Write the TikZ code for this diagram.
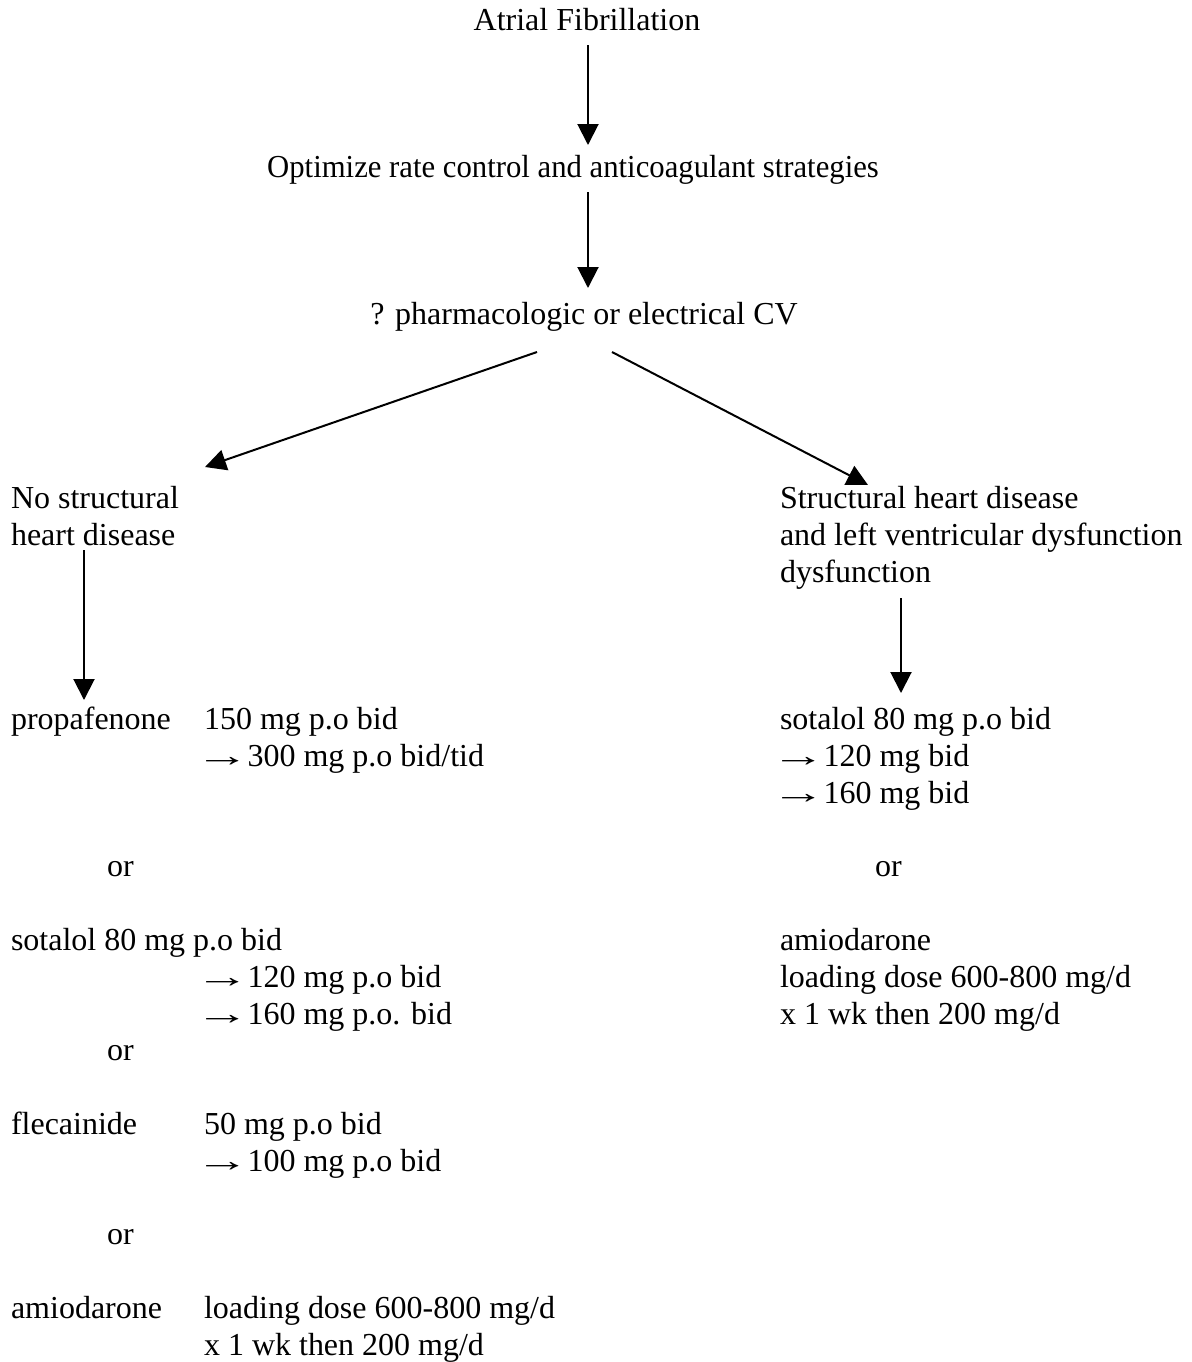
\documentclass[tikz,border=0pt]{standalone}
\usepackage{fontspec}
\setmainfont{Liberation Serif}
\usetikzlibrary{arrows.meta}
\newcommand{\ra}{\hspace*{-4.4pt}\scalebox{1.7}[1]{→}\hspace{-5pt}}
\begin{document}
\begin{tikzpicture}[x=0.5pt,y=-0.5pt,
  txt/.style={inner sep=0pt,outer sep=0pt,anchor=base west,text height=11pt,text depth=3pt,font=\fontsize{16pt}{18.4pt}\selectfont},
  ctxt/.style={txt,anchor=base},
  arr/.style={line width=1pt,-{Triangle[length=10.5pt,width=10.5pt]}}]
\useasboundingbox (0,0) rectangle (1192,1362);
% top chain
\node[ctxt] (af) at (587,30) {Atrial Fibrillation};
\node[ctxt] (opt) at (573,177) {\scalebox{0.96}[1]{Optimize rate control and anticoagulant strategies}};
\node[ctxt] (cv) at (584,324) {? pharmacologic or electrical CV};
% branches
\node[txt] (ns1) at (11,508) {No structural};
\node[txt] (ns2) at (11,545) {heart disease};
\node[txt] (sh1) at (780,508) {Structural heart disease};
\node[txt] (sh2) at (780,545) {and left ventricular dysfunction};
\node[txt] (sh3) at (780,582) {dysfunction};
% left column
\node[txt] (pro) at (11,729) {propafenone};
\node[txt] (pro1) at (204,729) {150 mg p.o bid};
\node[txt] (pro2) at (204,766) {\ra{} 300 mg p.o bid/tid};
\node[txt] (or1) at (107,876) {or};
\node[txt] (sot) at (11,950) {sotalol 80 mg p.o bid};
\node[txt] (sot2) at (204,987) {\ra{} 120 mg p.o bid};
\node[txt] (sot3) at (204,1024) {\ra{} 160 mg p.o. bid};
\node[txt] (or2) at (107,1060) {or};
\node[txt] (fle) at (11,1134) {flecainide};
\node[txt] (fle1) at (204,1134) {50 mg p.o bid};
\node[txt] (fle2) at (204,1171) {\ra{} 100 mg p.o bid};
\node[txt] (or3) at (107,1244) {or};
\node[txt] (ami) at (11,1318) {amiodarone};
\node[txt] (ami1) at (204,1318) {loading dose 600-800 mg/d};
\node[txt] (ami2) at (204,1355) {x 1 wk then 200 mg/d};
% right column
\node[txt] (rsot) at (780,729) {sotalol 80 mg p.o bid};
\node[txt] (rsot2) at (780,766) {\ra{} 120 mg bid};
\node[txt] (rsot3) at (780,803) {\ra{} 160 mg bid};
\node[txt] (ror) at (875,876) {or};
\node[txt] (rami) at (780,950) {amiodarone};
\node[txt] (rami1) at (780,987) {loading dose 600-800 mg/d};
\node[txt] (rami2) at (780,1024) {x 1 wk then 200 mg/d};
% connector endpoints
\coordinate (a1s) at (588,45);  \coordinate (a1e) at (588,145);
\coordinate (a2s) at (588,192); \coordinate (a2e) at (588,288);
\coordinate (a3s) at (537,352); \coordinate (a3e) at (205,467);
\coordinate (a4s) at (612,352); \coordinate (a4e) at (868,485);
\coordinate (a5s) at (84,550);  \coordinate (a5e) at (84,700);
\coordinate (a6s) at (901,598); \coordinate (a6e) at (901,693);
\draw[arr] (a1s) -- (a1e);
\draw[arr] (a2s) -- (a2e);
\draw[arr] (a3s) -- (a3e);
\draw[arr] (a4s) -- (a4e);
\draw[arr] (a5s) -- (a5e);
\draw[arr] (a6s) -- (a6e);
\end{tikzpicture}
\end{document}
